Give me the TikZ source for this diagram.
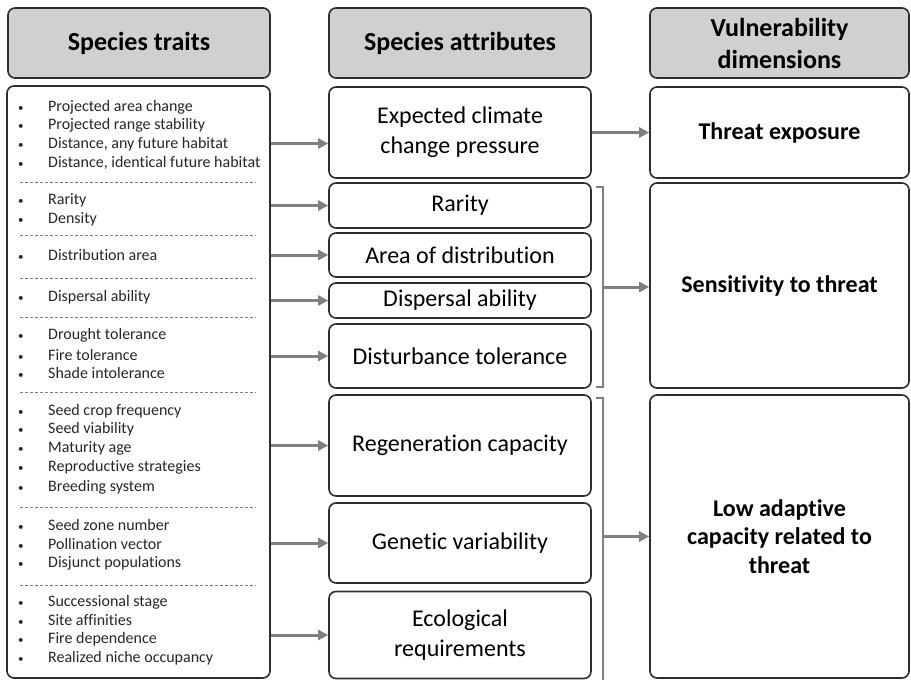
\documentclass[tikz,border=0pt]{standalone}
\usepackage{fontspec}
\setmainfont{Carlito}[Ligatures=NoCommon]
\usepackage{xcolor}
\usepackage{tikz}
\usetikzlibrary{arrows.meta,positioning,calc}
\definecolor{headgray}{RGB}{208,208,208}
\definecolor{linkgray}{RGB}{128,128,128}
\definecolor{edgegray}{RGB}{45,45,45}

\tikzset{
  box/.style={draw=edgegray, line width=1.6pt, rounded corners=7pt, align=center, inner sep=0pt},
  headbox/.style={box, fill=headgray, minimum height=70pt, font=\fontsize{26}{32}\selectfont\bfseries},
  attrbox/.style={box, minimum width=262pt, font=\fontsize{24}{30}\selectfont},
  dimbox/.style={box, minimum width=259pt, font=\fontsize{24}{28.5}\selectfont\bfseries},
  link/.style={-{Triangle[length=10pt,width=10pt]}, line width=3pt, linkgray},
  brace/.style={line width=2.4pt, linkgray},
  sep/.style={dash pattern=on 3pt off 2pt, line width=0.8pt, gray},
  item/.style={anchor=west, inner sep=0pt, font=\fontsize{16}{18}\selectfont, text=black!85}
}

\begin{document}
\begin{tikzpicture}[x=1pt, y=-1pt]
    \useasboundingbox (0,0) rectangle (911,680);
    % Headers
    \node[headbox, minimum width=262pt] (hTraits) at (139,43) {Species traits};
    \node[headbox, minimum width=262pt] (hAttr) at (460,43) {Species attributes};
    \node[headbox, minimum width=259pt] (hDim) at (779.5,43) {Vulnerability\\dimensions};
    % Species traits
    \node[box, minimum width=263pt, minimum height=592pt] (traits) at (138.5,382) {};
    \foreach \y/\t [count=\k] in {107/Projected area change, 125/Projected range stability,
        144/{Distance, any future habitat}, 163/{Distance, identical future habitat},
        200/Rarity, 219/Density, 255/Distribution area, 297/Dispersal ability,
        335/Drought tolerance, 355/Fire tolerance, 373/Shade intolerance,
        411/Seed crop frequency, 429/Seed viability, 448/Maturity age,
        467/Reproductive strategies, 487/Breeding system,
        525/Seed zone number, 544/Pollination vector, 563/Disjunct populations,
        602/Successional stage, 620/Site affinities, 639/Fire dependence,
        658/Realized niche occupancy}
        \node[item] (item\k) at (18,\y) {\makebox[30pt][l]{\fontsize{11}{11}\selectfont\textbullet}\t};
    \foreach \y in {182,235,278,317,392,507,585}
        \draw[sep] (20,\y) -- (256,\y);
    % Species attributes
    \node[attrbox, minimum height=91pt] (exp) at (460,132.5) {Expected climate\\change pressure};
    \node[attrbox, minimum height=45pt] (rar) at (460,205.5) {Rarity};
    \node[attrbox, minimum height=44pt] (area) at (460,255) {Area of distribution};
    \node[attrbox, minimum height=35pt] (disp) at (460,300.5) {Dispersal ability};
    \node[attrbox, minimum height=64pt] (dist) at (460,356) {Disturbance tolerance};
    \node[attrbox, minimum height=101pt] (regen) at (460,445.5) {Regeneration capacity};
    \node[attrbox, minimum height=80pt] (gen) at (460,543) {Genetic variability};
    \node[attrbox, minimum height=87pt] (eco) at (460,635) {Ecological\\requirements};
    % Vulnerability dimensions
    \node[dimbox, minimum height=91pt] (thr) at (779.5,132.5) {Threat exposure};
    \node[dimbox, minimum height=205pt] (sens) at (779.5,285.5) {Sensitivity to threat};
    \node[dimbox, minimum height=283pt] (low) at (779.5,536.5) {Low adaptive\\capacity related to\\threat};
    % Links traits -> attributes
    \coordinate (expIn) at ($(exp.west)+(0,11)$);
    \draw[link] (traits.east |- expIn) -- (expIn);
    \foreach \n in {rar,area,disp,dist,regen,gen,eco}
        \draw[link] (traits.east |- \n.west) -- (\n.west);
    \draw[link] (exp.east) -- (thr.west);
    % Brackets
    \coordinate (b1top) at (603,187);
    \coordinate (b1bot) at (603,387);
    \coordinate (b1mid) at (603,287);
    \draw[brace] ($(b1top)+(-7,0)$) -- (b1top) -- (b1bot) -- ($(b1bot)+(-7,0)$);
    \draw[link] (b1mid) -- (b1mid -| sens.west);
    \coordinate (b2top) at (603,398);
    \coordinate (b2bot) at (603,682);
    \draw[brace] ($(b2top)+(-7,0)$) -- (b2top) -- (b2bot);
    \draw[link] (b2top |- low.west) -- (low.west);
\end{tikzpicture}
\end{document}
